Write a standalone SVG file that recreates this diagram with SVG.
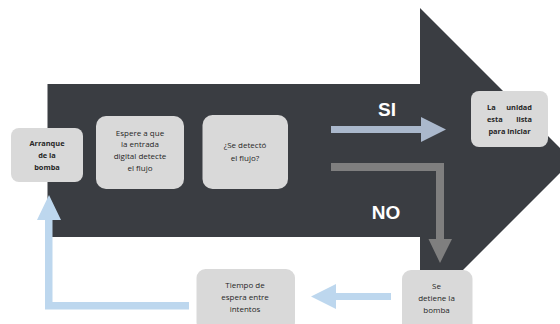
<svg xmlns="http://www.w3.org/2000/svg" width="560" height="324" viewBox="0 0 560 324">
<style>
.box{fill:#d9d9d9}
.t{font-family:"Open Sans","Liberation Sans",sans-serif;font-size:8px;fill:#262626;text-anchor:middle}
.b{font-weight:bold}
.s{font-size:7.4px}
.big{font-family:"Liberation Sans",Arial,sans-serif;font-size:19px;font-weight:bold;fill:#ffffff;text-anchor:middle}
</style>
<rect width="560" height="324" fill="#ffffff"/>
<g id="big-arrow">
<polygon points="47.5,84 420,84 420,8 572.5,160.5 420,313 420,237 47.5,237" fill="#3a3d42"/>
</g>
<g id="connectors">
<polygon points="331,126 421,126 421,117 446,129.5 421,142 421,133 331,133" fill="#aab8cc"/>
<polygon points="331,163 444,163 444,239 452,239 440,263 428.5,239 436,239 436,171 331,171" fill="#7f7f7f"/>
<polygon points="391,293 336,293 336,284 311,296.5 336,309 336,300 391,300" fill="#bdd7ee"/>
<polygon points="189,302 52.5,302 52.5,220 61,220 49,195 37,220 45,220 45,309.5 189,309.5" fill="#bdd7ee"/>
</g>
<text class="big" x="387" y="116">SI</text>
<text class="big" x="386" y="219">NO</text>
<g id="arranque">
<rect class="box" x="11" y="128" width="72" height="54" rx="8"/>
<text class="t b s" x="47" y="146">Arranque</text>
<text class="t b s" x="47" y="158">de la</text>
<text class="t b s" x="47" y="170">bomba</text>
</g>
<g id="espere">
<rect class="box" x="96" y="116" width="88" height="73" rx="10"/>
<text class="t" x="140" y="136">Espere a que</text>
<text class="t" x="140" y="147">la entrada</text>
<text class="t" x="140" y="159">digital detecte</text>
<text class="t" x="140" y="171">el flujo</text>
</g>
<g id="detecto">
<rect class="box" x="202.5" y="115" width="85.5" height="74" rx="10"/>
<text class="t" x="245" y="148">¿Se detectó</text>
<text class="t" x="245" y="161">el flujo?</text>
</g>
<g id="lista">
<rect class="box" x="471" y="91" width="77" height="56" rx="8"/>
<text class="t b s" x="487" y="110" style="text-anchor:start">La</text>
<text class="t b s" x="532" y="110" style="text-anchor:end">unidad</text>
<text class="t b s" x="487" y="122" style="text-anchor:start">esta</text>
<text class="t b s" x="532" y="122" style="text-anchor:end">lista</text>
<text class="t b s" x="509.5" y="134">para iniciar</text>
</g>
<g id="tiempo">
<rect class="box" x="196.5" y="269" width="98.5" height="62" rx="9"/>
<text class="t" x="245" y="288">Tiempo de</text>
<text class="t" x="245" y="300">espera entre</text>
<text class="t" x="245" y="312">intentos</text>
</g>
<g id="detiene">
<rect class="box" x="402" y="270" width="70.5" height="62" rx="9"/>
<text class="t" x="436.5" y="289">Se</text>
<text class="t" x="436.5" y="301">detiene la</text>
<text class="t" x="436.5" y="313">bomba</text>
</g>
</svg>
